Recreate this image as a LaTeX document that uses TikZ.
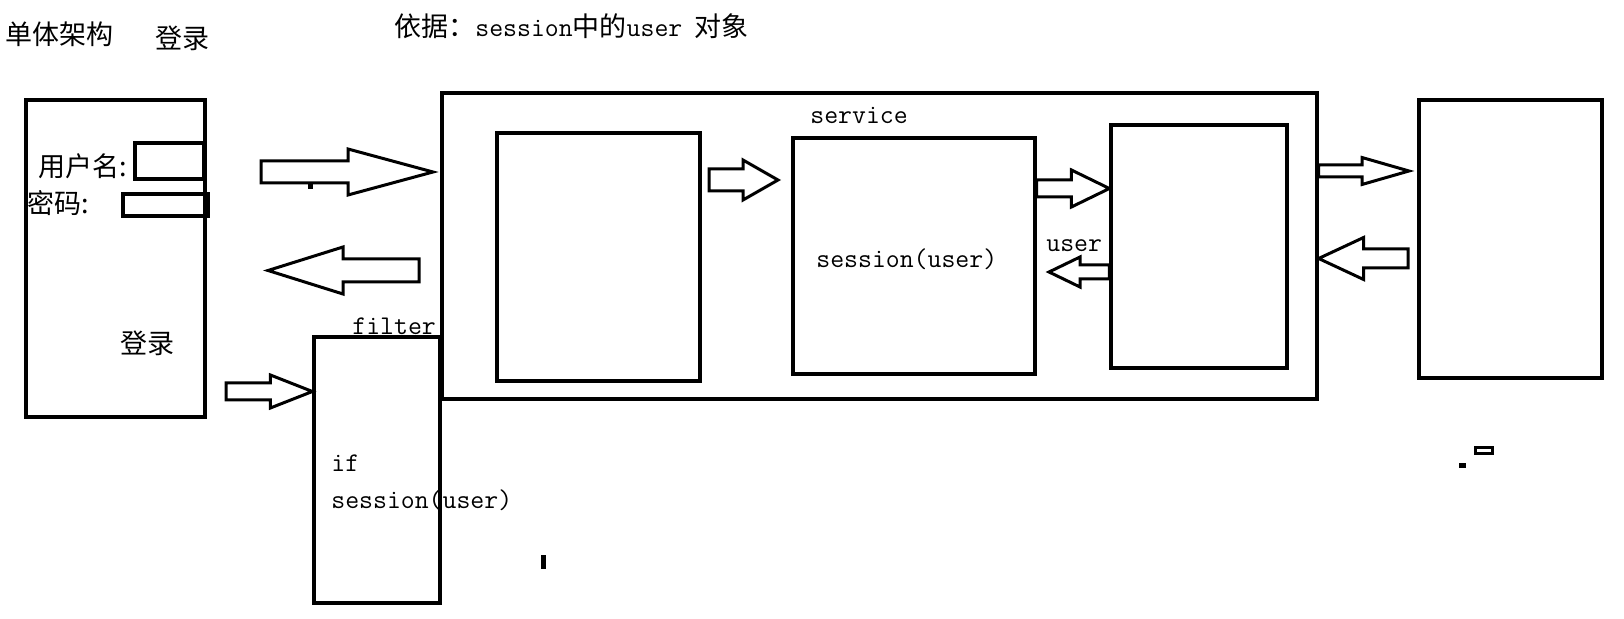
\documentclass[tikz,border=0pt]{standalone}
\usepackage{fontspec}
\setmainfont{Noto Sans CJK SC}
\usepackage{tikz}
\usetikzlibrary{calc,fit}

\tikzset{
  box/.style={draw, black, line width=1.6pt, inner sep=0pt},
  fat/.style={draw, black, line width=1.5pt, line join=miter, fill=white},
  txt/.style={inner sep=0pt, anchor=west, font=\fontsize{13.5}{16}\selectfont},
  code/.style={txt, font=\fontsize{13.5}{16}\selectfont\ttfamily},
}
\newcommand{\fatarrow}[5]{%
  \draw[fat] ($(#1)+(0,#3)$) -- ($(#2)+(#5,#3)$) -- ($(#2)+(#5,#4)$) -- (#2)
    -- ($(#2)+(#5,-#4)$) -- ($(#2)+(#5,-#3)$) -- ($(#1)+(0,-#3)$) -- cycle;}

\begin{document}
\begin{tikzpicture}[x=0.5pt,y=-0.5pt]
\useasboundingbox (0,0) rectangle (1624,619);

\node[box, fit={(26,100) (205,417)}] (login) {};
\node[box, fit={(135,143) (204,179)}] (uname) {};
\node[box, fit={(123,194) (208,216)}] (pwd) {};
\node[box, fit={(314,337) (440,603)}] (filter) {};
\node[box, fit={(442,93) (1317,399)}] (server) {};
\node[box, fit={(497,133) (700,381)}] (web) {};
\node[box, fit={(793,138) (1035,374)}] (svc) {};
\node[box, fit={(1111,125) (1287,368)}] (dao) {};
\node[box, fit={(1419,100) (1602,378)}] (db) {};

\coordinate (a1t) at (261,172);
\coordinate (a1h) at (433,172);
\coordinate (a2t) at (419,270.5);
\coordinate (a2h) at (268,270.5);
\coordinate (a3t) at (226,391.5);
\coordinate (a3h) at (filter.west |- 0,391.5);
\coordinate (a4t) at (709,180);
\coordinate (a4h) at (778,180);
\coordinate (a5t) at (svc.east |- 0,188.5);
\coordinate (a5h) at (dao.west |- 0,188.5);
\coordinate (a6t) at (dao.west |- 0,272);
\coordinate (a6h) at (1049,272);
\coordinate (a7t) at (server.east |- 0,171);
\coordinate (a7h) at (1409,171);
\coordinate (a8t) at (1408,258.5);
\coordinate (a8h) at (server.east |- 0,258.5);

\fatarrow{a1t}{a1h}{11}{23}{-85}
\fatarrow{a2t}{a2h}{11.5}{23.5}{75}
\fatarrow{a3t}{a3h}{8.5}{16.5}{-42}
\fatarrow{a4t}{a4h}{11}{20}{-35}
\fatarrow{a5t}{a5h}{8.5}{18.5}{-38}
\fatarrow{a6t}{a6h}{7}{15}{31}
\fatarrow{a7t}{a7h}{6}{13.5}{-47}
\fatarrow{a8t}{a8h}{9.5}{21}{45}

\fill[black] (308,183) rectangle (313,189);
\fill[black] (541,555) rectangle (546,569);
\fill[black] (1459,463) rectangle (1466,468);
\draw[black, line width=1.5pt] (1475.5,447.5) rectangle (1492.5,453.5);

\node[txt] (title) at (5,34) {单体架构};
\node[txt] (title-login) at (155,38) {登录};
\node[txt] (basis) at (394,26) {依据：{\ttfamily session}中的{\ttfamily user}\ \ 对象};
\node[txt] (uname-t) at (38,166) {用户名:};
\node[txt] (pwd-t) at (27,203) {密码:};
\node[txt] (login-btn) at (120,343) {登录};
\node[code] (filter-t) at (352,326) {filter};
\node[code] (if-t) at (331,463) {if};
\node[code] (check-t) at (331,500) {session(user)};
\node[code] (svc-t) at (810,115) {service};
\node[code] (session-t) at (816,259) {session(user)};
\node[code] (user-t) at (1046,246) {user};
\end{tikzpicture}
\end{document}
